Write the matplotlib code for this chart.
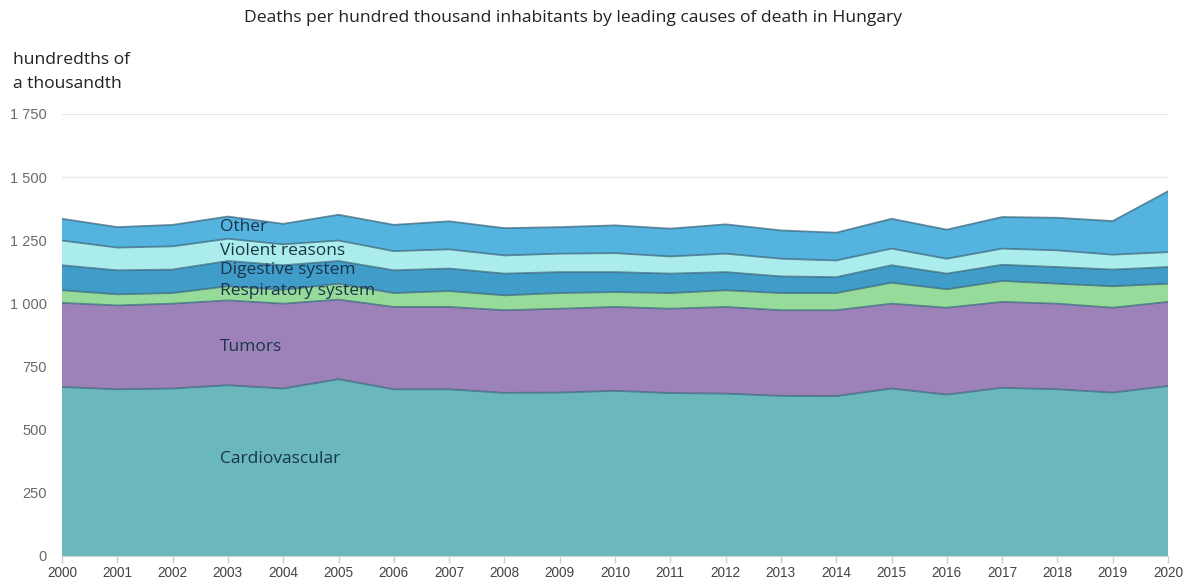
import matplotlib
matplotlib.use("Agg")
import matplotlib.pyplot as plt
import matplotlib.ticker as mticker
import numpy as np

# ─── Data (deaths per 100 000 inhabitants) ─────────────────────────────────
years = list(range(2000, 2021))
cardiovascular = [669, 660, 663, 676, 663, 700, 660, 660, 646, 647, 654,
                  645, 643, 634, 633, 663, 639, 666, 660, 647, 673]
tumors = [333, 332, 336, 336, 336, 315, 326, 326, 327, 332, 332,
          334, 343, 339, 340, 336, 344, 340, 339, 336, 333]
respiratory = [50, 44, 42, 56, 55, 63, 55, 63, 59, 62, 59,
               62, 66, 68, 68, 83, 73, 83, 79, 85, 72]
digestive = [99, 95, 93, 100, 97, 90, 90, 89, 86, 83, 79,
             77, 72, 66, 63, 69, 62, 64, 66, 66, 66]
violent = [98, 90, 92, 88, 83, 81, 76, 76, 72, 73, 75,
           68, 73, 70, 66, 66, 59, 64, 66, 59, 59]
other = [86, 81, 85, 88, 81, 102, 104, 111, 108, 105, 110,
         110, 116, 112, 110, 118, 115, 125, 129, 133, 241]

series_names = ["Cardiovascular", "Tumors", "Respiratory system",
                "Digestive system", "Violent reasons", "Other"]
yticks = [0, 250, 500, 750, 1000, 1250, 1500, 1750]

COLORS = ["#6AB7BC", "#9C82B9", "#96DB9A", "#409CC8", "#AAEDEC", "#55B3DF"]
COLOR_EDGE = "#3E6A80"; COLOR_LABEL = "#1A3448"
COLOR_GRID = "#E8E8E8"; COLOR_AXIS = "#CFCFCF"

# label anchor (x) and vertical centre of each in-chart label
LABEL_X = 2002.86
LABEL_Y = [384, 826, 1048, 1131, 1206, 1301]

fig = plt.figure(figsize=(11.88, 5.78), dpi=100, facecolor="white")
ax = fig.add_axes([0.0522, 0.0381, 0.9310, 0.7647])

stack = [cardiovascular, tumors, respiratory, digestive, violent, other]
ax.stackplot(years, *stack, colors=COLORS, linewidth=0, zorder=2)
tops = np.cumsum(np.array(stack), axis=0)
for row in tops:
    ax.plot(years, row, color=COLOR_EDGE, linewidth=1.3, alpha=0.75, zorder=3)

for name, ly in zip(series_names, LABEL_Y):
    ax.text(LABEL_X, ly, name, ha="left", va="center", fontsize=12.5,
            family="Open Sans", color=COLOR_LABEL, zorder=5)

ax.set_xlim(2000, 2020)
ax.set_ylim(0, 1750)
ax.set_xticks(years)
ax.set_yticks(yticks)
ax.yaxis.set_major_formatter(
    mticker.FuncFormatter(lambda v, _: f"{int(v):,}".replace(",", " ")))
ax.yaxis.grid(True, color=COLOR_GRID, linewidth=1.0, zorder=0)
ax.set_axisbelow(True)
for s in ["top", "right", "left"]:
    ax.spines[s].set_visible(False)
ax.spines["bottom"].set_color(COLOR_AXIS)
ax.spines["bottom"].set_zorder(4)
ax.tick_params(axis="y", length=0, pad=11, labelsize=10.5, labelcolor="#6A6A6A")
ax.tick_params(axis="x", length=5, width=1, color=COLOR_AXIS, pad=2,
               labelsize=9.8, labelcolor="#444444")
for lbl in ax.get_xticklabels() + ax.get_yticklabels():
    lbl.set_family("Liberation Sans")

fig.text(0.482, 1 - 18 / 578, "Deaths per hundred thousand inhabitants by leading causes of death in Hungary",
         ha="center", va="center", fontsize=12.6, family="Open Sans", color="#222222")
fig.text(13 / 1188, 1 - 60 / 578, "hundredths of", ha="left", va="center",
         fontsize=12.6, family="Open Sans", color="#222222")
fig.text(13 / 1188, 1 - 84 / 578, "a thousandth", ha="left", va="center",
         fontsize=12.6, family="Open Sans", color="#222222")

fig.savefig("out.png", dpi=100, facecolor="white")
